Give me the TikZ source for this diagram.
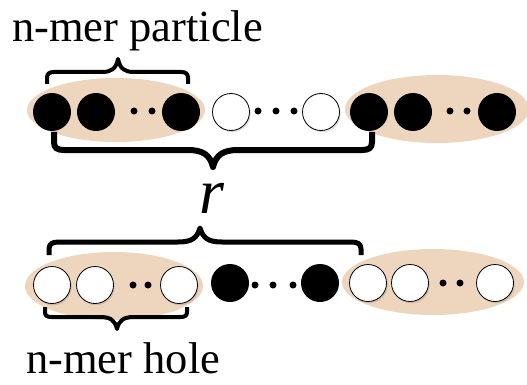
\documentclass[tikz,border=0pt]{standalone}
\usepackage{fontspec}
\setmainfont{Liberation Serif}
\newfontfamily\tnr{Liberation Serif}
\usetikzlibrary{shapes.geometric}
\definecolor{tan}{RGB}{238,214,190}
\tikzset{
  blob/.style={ellipse, fill=tan, inner sep=0pt, minimum height=64pt},
  bcirc/.style={circle, fill=black, inner sep=0pt, minimum size=38pt},
  wcirc/.style={circle, fill=white, draw=black, line width=0.8pt, inner sep=0pt, minimum size=37pt},
  shadow/.style={circle, fill=black, opacity=0.12, inner sep=0pt, minimum size=37pt},
  dotm/.style={circle, fill=black, inner sep=0pt, minimum size=7pt},
  bracep/.style={draw=black, line width=#1, line cap=butt, line join=round},
  lbl/.style={inner sep=0pt, font=\tnr\fontsize{44.5}{50}\selectfont}
}
\begin{document}
\begin{tikzpicture}[x=1pt,y=-1pt]
\useasboundingbox (0,0) rectangle (527,385);
% ---------- ellipses ----------
\node[blob, minimum width=178pt] (e1) at (116,110) {};
\node[blob, minimum width=184pt, minimum height=68pt] (e2) at (437,109) {};
\node[blob, minimum width=178pt, minimum height=68pt] (e3) at (114,286) {};
\node[blob, minimum width=182pt, minimum height=66pt] (e4) at (433,282) {};
% ---------- shadows of white circles ----------
\foreach \x/\y in {231/112,321/112,52/285,95/285,179/285,368/283,410/283,495/283}
  {\node[shadow] at (\x+1.2,\y+1.8) {};}
% ---------- top row ----------
\node[bcirc] (t1) at (52,112) {};
\node[bcirc] (t2) at (96,112) {};
\node[dotm] (td1) at (134,111) {};
\node[dotm] (td2) at (152,111) {};
\node[bcirc] (t3) at (181,112) {};
\node[wcirc] (t4) at (231,112) {};
\node[dotm] (td3) at (258,111) {};
\node[dotm] (td4) at (276,111) {};
\node[dotm] (td5) at (294,111) {};
\node[wcirc] (t5) at (321,112) {};
\node[bcirc] (t6) at (369,112) {};
\node[bcirc] (t7) at (413,112) {};
\node[dotm] (td6) at (450,111) {};
\node[dotm] (td7) at (467,111) {};
\node[bcirc] (t8) at (497,112) {};
% ---------- bottom row ----------
\node[wcirc] (b1) at (52,285) {};
\node[wcirc] (b2) at (95,285) {};
\node[dotm] (bd1) at (133,285) {};
\node[dotm] (bd2) at (148,285) {};
\node[wcirc] (b3) at (179,285) {};
\node[bcirc] (b4) at (230,283) {};
\node[dotm] (bd3) at (255,285) {};
\node[dotm] (bd4) at (273,285) {};
\node[dotm] (bd5) at (293,285) {};
\node[bcirc] (b5) at (320,283) {};
\node[wcirc] (b6) at (368,283) {};
\node[wcirc] (b7) at (410,283) {};
\node[dotm] (bd6) at (443,283) {};
\node[dotm] (bd7) at (460,283) {};
\node[wcirc] (b8) at (495,283) {};
% ---------- braces ----------
% n-mer particle brace (tip up)
\draw[bracep=4pt] (47,84) -- (47,78) .. controls (47,74) and (49,72) .. (54,72)
  -- (102,72) .. controls (111,72) and (116,69) .. (118,59)
  .. controls (120,69) and (125,72) .. (134,72) -- (181,72)
  .. controls (186,72) and (188,74) .. (188,78) -- (188,84);
% brace under top row (tip down)
\draw[bracep=6pt] (54,132) -- (54,142) .. controls (54,148) and (57,150) .. (64,150)
  -- (188,150) .. controls (203,150) and (210,155) .. (213,167)
  .. controls (216,155) and (223,150) .. (238,150) -- (362,150)
  .. controls (369,150) and (372,148) .. (372,142) -- (372,132);
% brace above bottom row (tip up)
\draw[bracep=5pt] (49,255) -- (49,249) .. controls (49,244) and (52,242) .. (59,242)
  -- (178,242) .. controls (192,242) and (197,238) .. (200,228)
  .. controls (203,238) and (208,242) .. (222,242) -- (351,242)
  .. controls (358,242) and (361,244) .. (361,249) -- (361,255);
% n-mer hole brace (tip down)
\draw[bracep=4pt] (45,307) -- (45,312) .. controls (45,316) and (47,317) .. (52,317)
  -- (100,317) .. controls (110,317) and (115,320) .. (117,329)
  .. controls (119,320) and (124,317) .. (134,317) -- (180,317)
  .. controls (185,317) and (187,316) .. (187,312) -- (187,307);
% ---------- labels ----------
\node[lbl, anchor=base west] (lp) at (12,42) {n-mer particle};
\node[inner sep=0pt, anchor=base, font=\tnr\fontsize{64}{70}\selectfont\itshape] (lr) at (212,213) {r};
\node[lbl, anchor=base west] (lh) at (26,373) {n-mer hole};
\end{tikzpicture}
\end{document}
